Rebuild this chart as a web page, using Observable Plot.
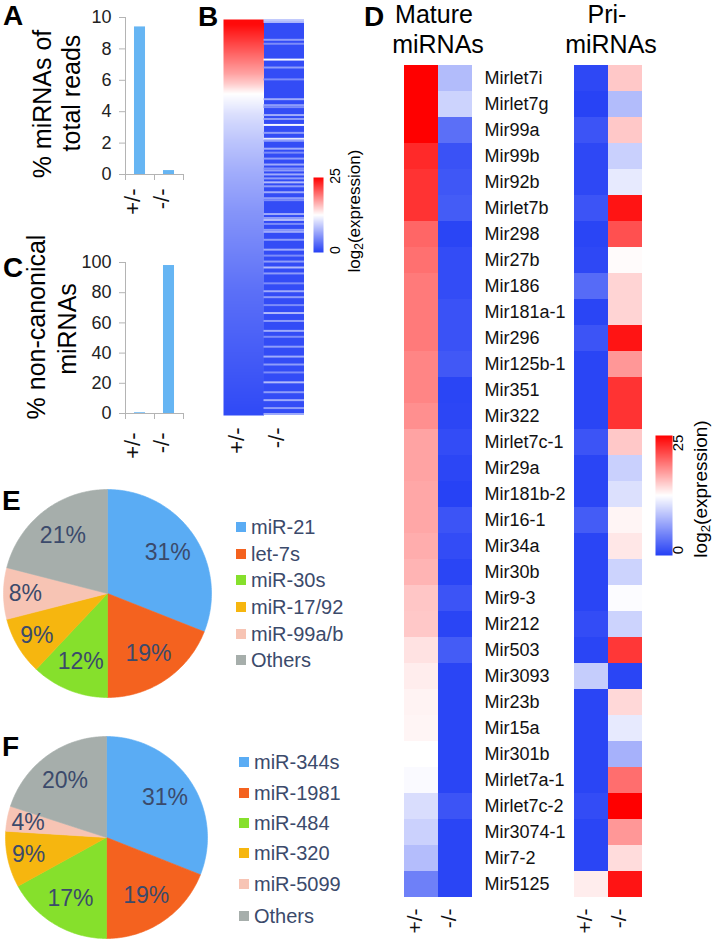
<!DOCTYPE html>
<html><head><meta charset="utf-8">
<script src="https://cdn.jsdelivr.net/npm/d3@7"></script>
<script src="https://cdn.jsdelivr.net/npm/@observablehq/plot@0.6"></script>
<style>
body{margin:0;background:#fff;}
#fig{position:relative;width:714px;height:943px;overflow:hidden;background:#fff;font-family:"Liberation Sans",Arial,Helvetica,sans-serif;}
.lbl{position:absolute;white-space:nowrap;line-height:1.1;}
#fig svg{position:absolute;overflow:visible;background:transparent;}
</style></head><body><div id="fig"></div>
<script>
// ---------------- DATA ----------------
const genotypes = ["+/-", "-/-"];
// Panel A: % miRNAs of total reads
const pctMiRNAsOfReads = [9.4, 0.25];
const aTicks = [0, 2, 4, 6, 8, 10];
// Panel C: % non-canonical miRNAs
const pctNonCanonical = [0.5, 98];
const cTicks = [0, 20, 40, 60, 80, 100];
// Panel B: log2(expression), +/- column (sorted, top to bottom)
const bHetColumn = [24.5, 23, 21.5, 20, 18.5, 17, 15, 12.5, 11.5, 10.5, 9.8, 9.2, 8.6, 8.1, 7.6, 7.1, 6.7, 6.3, 5.9, 5.5,
  5.2, 4.9, 4.6, 4.3, 4.0, 3.7, 3.4, 3.1, 2.9, 2.7, 2.5, 2.3, 2.1, 1.9, 1.7, 1.5, 1.3, 1.1, 0.9, 0.7];
// Panel B: -/- column is mostly low, with lighter rows
const bKoRowCount = 200;
const bKoBase = 0.8;
const bKoLightRows = [0, 1, 10, 12, 20, 24, 30, 40, 43, 44, 48, 50, 53, 57, 60, 61, 65, 67, 70, 73,
  75, 76, 78, 80, 82, 84, 87, 90, 91, 98, 100, 101, 103, 106, 107, 111, 116, 119, 122, 125,
  128, 133, 137, 140, 144, 148, 152, 157, 160, 165, 170, 174, 178, 183, 188, 192, 196, 199];
const bKoLightVals = [9, 8, 6, 5, 12, 6, 5, 7, 6, 5, 7, 6, 12, 6, 11, 6, 7, 5, 6, 7,
  5, 6, 7, 6, 8, 6, 7, 6, 5, 7, 6, 8, 5, 6, 7, 6, 7, 5, 6, 8,
  6, 5, 7, 6, 5, 8, 6, 7, 5, 6, 7, 6, 5, 8, 6, 7, 6, 7];
const legendTicks = [0, 25];
// Panel D
const dRowNames = ["Mirlet7i", "Mirlet7g", "Mir99a", "Mir99b", "Mir92b", "Mirlet7b", "Mir298", "Mir27b", "Mir186", "Mir181a-1",
  "Mir296", "Mir125b-1", "Mir351", "Mir322", "Mirlet7c-1", "Mir29a", "Mir181b-2", "Mir16-1", "Mir34a", "Mir30b",
  "Mir9-3", "Mir212", "Mir503", "Mir3093", "Mir23b", "Mir15a", "Mir301b", "Mirlet7a-1", "Mirlet7c-2", "Mir3074-1",
  "Mir7-2", "Mir5125"];
const dMatureHet = [25, 25, 25, 23, 22.5, 22.5, 20, 19.5, 19, 19, 19, 18.5, 18.5, 18, 17, 17, 16.8, 16.8, 16.5, 16.2,
  15.3, 15.2, 13.9, 13.4, 13.1, 13, 12.5, 12.2, 10.3, 9.5, 8.2, 4.2];
const dMatureKO = [8.1, 9.6, 3.1, 1.2, 1.5, 1.8, 0.3, 0.8, 0.8, 1.2, 1.2, 1.6, 0.3, 0.4, 0.8, 0.4, 0.1, 1.3, 0.8, 0.3,
  1.3, 0.3, 1.8, 0.3, 0.3, 0.3, 0.3, 0.3, 1.3, 0.3, 0.3, 0.3];
const dPriHet = [0.5, 0.2, 1.3, 0.5, 0.5, 1.3, 0.3, 0.5, 2.8, 0.3, 1.3, 0.3, 0.3, 0.3, 1.3, 0.3, 0.3, 1.8, 0.3, 0.3,
  0.3, 0.8, 0.3, 9.2, 0.3, 0.3, 0.3, 0.3, 0.8, 0.3, 0.3, 13.4];
const dPriKO = [15.2, 8.1, 15.2, 9.4, 11.1, 24, 21.1, 12.7, 14.6, 14.6, 24, 17.6, 22.5, 22.5, 15.2, 9.4, 10.5, 13, 13.7, 9.6,
  12.3, 9.6, 22.3, 0.3, 14.4, 11.1, 7.4, 19.6, 25, 17.6, 14.2, 24];
// Panels E and F
const eLabels = ["miR-21", "let-7s", "miR-30s", "miR-17/92", "miR-99a/b", "Others"];
const eShares = [31, 19, 12, 9, 8, 21];
const fLabels = ["miR-344s", "miR-1981", "miR-484", "miR-320", "miR-5099", "Others"];
const fShares = [31, 19, 17, 9, 4, 20];
const pieColors = ["#5aacf4", "#f4621f", "#86e02c", "#f6b60f", "#f7c4b4", "#a6aeab"];

// ---------------- HELPERS ----------------
const FONT = '"Liberation Sans", Arial, Helvetica, sans-serif';
const fig = document.getElementById("fig");
const heatColor = {type: "linear", domain: [0, 12.5, 25], range: ["#2540f5", "#ffffff", "#ff0000"], interpolate: "rgb"};
const TXT = "#3b4a6b";
function put(node, left, top) {
  node.style.left = left + "px"; node.style.top = top + "px";
  fig.appendChild(node); return node;
}
function label(content, x, y, o = {}) {
  const d = document.createElement("div");
  d.className = "lbl";
  d.innerHTML = content;
  d.style.left = x + "px"; d.style.top = y + "px";
  d.style.fontSize = (o.size || 16) + "px";
  d.style.fontWeight = o.weight || "normal";
  d.style.color = o.color || "#000";
  const tx = o.anchor === "start" ? "0" : "-50%";
  d.style.transform = `translate(${tx},-50%) rotate(${o.rotate || 0}deg)`;
  fig.appendChild(d);
  return d;
}

// ---------------- PANELS A & C (bars) ----------------
function barPanel(values, ticks, ymax, left, top, height, mTop, mBottom, labelDy) {
  const rows = genotypes.map((g, i) => ({g, i, v: values[i]}));
  return put(Plot.plot({
    width: 130, height, marginLeft: 55, marginRight: 17, marginTop: mTop, marginBottom: mBottom,
    style: {fontFamily: FONT, background: "transparent"},
    x: {domain: [0, 2], axis: null},
    y: {domain: [0, ymax], axis: null},
    marks: [
      Plot.rectY(rows, {x1: d => d.i + 0.31, x2: d => d.i + 0.69, y: "v", fill: "#66b5f3"}),
      Plot.ruleY([0], {stroke: "#b4b4b4"}),
      Plot.ruleX([0], {stroke: "#b4b4b4"}),
      Plot.axisY({ticks, label: null, tickSize: 6, tickPadding: 8, fontSize: 18, stroke: "#b4b4b4", fill: "#222"}),
      Plot.axisX({ticks: [0, 1, 2], label: null, tickSize: 6, tickFormat: () => "", stroke: "#b4b4b4"}),
      Plot.text(rows, {x: d => d.i + 0.5, text: "g", frameAnchor: "bottom", dy: labelDy, rotate: -90,
        textAnchor: "end", fontSize: 22, fill: "#111"})
    ]
  }), left, top);
}
barPanel(pctMiRNAsOfReads, aTicks, 10, 70, 0, 230, 17, 56, 14);
barPanel(pctNonCanonical, cTicks, 100, 70, 240, 240, 22, 67, 19);

label("% miRNAs of", 43, 104, {size: 25, rotate: -90});
label("total reads", 72, 93, {size: 25, rotate: -90});
label("% non-canonical", 37, 327, {size: 25, rotate: -90});
label("miRNAs", 68, 329, {size: 25, rotate: -90});

// ---------------- PANEL B (heatmap) ----------------
const nB = bHetColumn.length;
const bHetPts = bHetColumn.flatMap((v, i) => [{x: 0, y: (i + 0.5) / nB, v}, {x: 1, y: (i + 0.5) / nB, v}]);
const bKo = bKoLightRows.map((r, i) => ({r, v: bKoLightVals[i]}));
put(Plot.plot({
  width: 100, height: 470, marginLeft: 10, marginRight: 9, marginTop: 19, marginBottom: 55,
  style: {fontFamily: FONT, background: "transparent"},
  x: {domain: [0, 2], axis: null},
  y: {domain: [0, 1], reverse: true, axis: null},
  color: heatColor,
  marks: [
    Plot.raster(bHetPts, {x: "x", y: "y", fill: "v", x1: 0, x2: 1, y1: 0, y2: 1, interpolate: "barycentric", pixelSize: 1}),
    Plot.rect([bKoBase], {x1: 1, x2: 2, y1: 0, y2: 1, fill: d => d, shapeRendering: "crispEdges"}),
    Plot.rect(bKo, {x1: 1, x2: 2, y1: d => d.r / bKoRowCount, y2: d => (d.r + 1) / bKoRowCount, fill: "v"}),
    Plot.text(genotypes, {x: (d, i) => i + 0.5, text: d => d, frameAnchor: "bottom", dy: 12, rotate: -90,
      textAnchor: "end", fontSize: 22, fill: "#111"})
  ]
}), 213, 0);

// colour ramps
function ramp(left, top, w, h) {
  return put(Plot.plot({
    width: w, height: h, margin: 0,
    x: {domain: [0, 1], axis: null}, y: {domain: [legendTicks[0], legendTicks[1]], axis: null},
    color: heatColor,
    marks: [Plot.raster({x1: 0, x2: 1, y1: legendTicks[0], y2: legendTicks[1], fill: (x, y) => y, pixelSize: 1})]
  }), left, top);
}
ramp(313, 177, 10, 75);
label(String(legendTicks[1]), 336, 176, {size: 14, rotate: -90});
label(String(legendTicks[0]), 336, 250, {size: 14, rotate: -90});
label("log<sub style='font-size:0.7em;vertical-align:-0.25em'>2</sub>(expression)", 356, 211, {size: 17, rotate: -90});

ramp(655, 435, 17, 120);
label(String(legendTicks[1]), 678, 443, {size: 15, rotate: -90});
label(String(legendTicks[0]), 678, 550, {size: 15, rotate: -90});
label("log<sub style='font-size:0.7em;vertical-align:-0.25em'>2</sub>(expression)", 702, 489, {size: 19, rotate: -90});

// ---------------- PANEL D (heatmap) ----------------
const dCols = ["M+", "M-", "g1", "g2", "g3", "P+", "P-"];
const dCells = dRowNames.flatMap((name, i) => [
  {col: "M+", name, v: dMatureHet[i]}, {col: "M-", name, v: dMatureKO[i]},
  {col: "P+", name, v: dPriHet[i]}, {col: "P-", name, v: dPriKO[i]}
]);
const dColLabels = [{col: "M+", g: genotypes[0]}, {col: "M-", g: genotypes[1]}, {col: "P+", g: genotypes[0]}, {col: "P-", g: genotypes[1]}];
put(Plot.plot({
  width: 300, height: 903, marginLeft: 13, marginRight: 47, marginTop: 22, marginBottom: 43,
  style: {fontFamily: FONT, background: "transparent"},
  x: {type: "band", domain: dCols, padding: 0, axis: null},
  y: {type: "band", domain: dRowNames, padding: 0, axis: null},
  color: heatColor,
  marks: [
    Plot.cell(dCells, {x: "col", y: "name", fill: "v", inset: 0, shapeRendering: "crispEdges"}),
    Plot.text(dRowNames, {x: () => "g1", y: d => d, text: d => d, textAnchor: "start", dx: -5, fontSize: 18, fill: "#111"}),
    Plot.text(dColLabels, {x: "col", text: "g", frameAnchor: "bottom", dy: 8, rotate: -90, textAnchor: "end", fontSize: 21, fill: "#111"})
  ]
}), 390, 40);
label("Mature", 434, 15, {size: 25});
label("miRNAs", 438, 45, {size: 25});
label("Pri-", 607, 15, {size: 25});
label("miRNAs", 611, 45, {size: 25});

// ---------------- PANELS E & F (pies) ----------------
function pie(labels, shares, r, cx, cy, legendX, legendYs) {
  const total = d3.sum(shares);
  let acc = 0;
  const slices = shares.map((s, i) => {
    const a0 = acc / total * 2 * Math.PI; acc += s;
    const a1 = acc / total * 2 * Math.PI;
    const n = Math.max(2, Math.ceil((a1 - a0) / (Math.PI / 180)));
    const pts = [{x: 0, y: 0}];
    for (let k = 0; k <= n; k++) { const a = a0 + (a1 - a0) * k / n; pts.push({x: Math.sin(a), y: Math.cos(a)}); }
    pts.push({x: 0, y: 0});
    const mid = (a0 + a1) / 2, kr = s < 10 ? 0.79 : 0.7;
    return {label: labels[i], share: s, color: pieColors[i], pts, lx: kr * Math.sin(mid), ly: kr * Math.cos(mid)};
  });
  const size = 2 * r + 4;
  put(Plot.plot({
    width: size, height: size, margin: 2,
    style: {fontFamily: FONT, background: "transparent"},
    x: {domain: [-1, 1], axis: null}, y: {domain: [-1, 1], axis: null},
    marks: [
      ...slices.map(s => Plot.line(s.pts, {x: "x", y: "y", fill: s.color, stroke: s.color, strokeWidth: 0.6})),
      Plot.text(slices, {x: "lx", y: "ly", text: d => d.share + "%", fontSize: 23, fill: TXT})
    ]
  }), cx - r - 2, cy - r - 2);
  labels.forEach((lab, i) => {
    const sq = document.createElement("div");
    sq.style.cssText = `position:absolute;left:${legendX}px;top:${legendYs[i] - 5}px;width:10px;height:10px;background:${pieColors[i]};`;
    fig.appendChild(sq);
    label(lab, legendX + 15, legendYs[i], {size: 20, color: TXT, anchor: "start"});
  });
}
pie(eLabels, eShares, 104, 107, 593, 236, [527, 554, 580, 607, 634, 660]);
pie(fLabels, fShares, 101, 106, 837, 239, [762, 793, 823, 853, 884, 916]);

// ---------------- panel letters ----------------
label("A", 3, 16, {size: 28, weight: "bold", anchor: "start"});
label("B", 198, 17, {size: 28, weight: "bold", anchor: "start"});
label("C", 3, 268, {size: 28, weight: "bold", anchor: "start"});
label("D", 364, 17, {size: 28, weight: "bold", anchor: "start"});
label("E", 2, 501, {size: 28, weight: "bold", anchor: "start"});
label("F", 2, 747, {size: 28, weight: "bold", anchor: "start"});
</script></body></html>
